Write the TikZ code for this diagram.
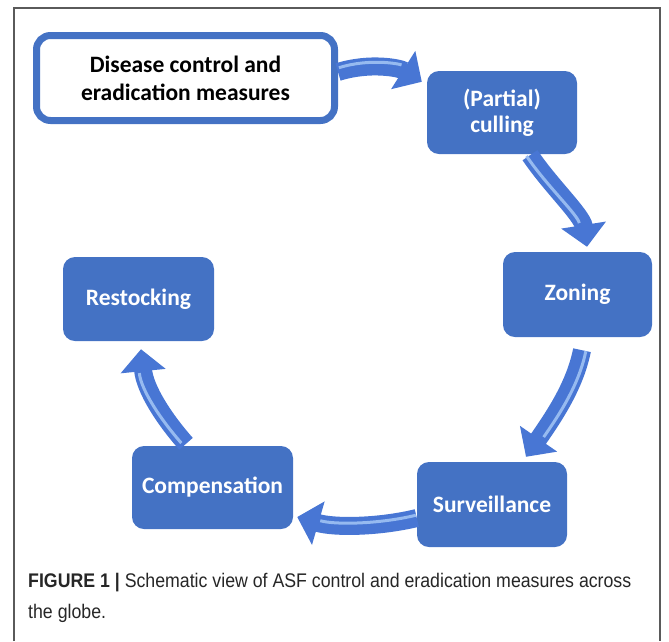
\documentclass[tikz,border=0pt]{standalone}
\usepackage{fontspec}
\usepackage{tikz}
\usetikzlibrary{arrows.meta,calc}
\newfontfamily\boxfont{Carlito}
\newfontfamily\capfont[FakeStretch=0.9]{Liberation Sans}
\definecolor{boxblue}{RGB}{68,114,196}
\definecolor{flowblue}{RGB}{72,118,212}
\definecolor{shineblue}{RGB}{150,186,240}
\definecolor{framegray}{RGB}{90,90,90}
\tikzset{
  stepbox/.style={rectangle,rounded corners=12pt,fill=boxblue,text=white,
    font=\boxfont\bfseries\fontsize{23.5}{26}\selectfont,align=center,inner sep=0pt},
  flow/.style={draw=flowblue,line width=18pt,-{Triangle[width=44pt,length=22pt]}},
  shine/.style={postaction={draw=shineblue,line width=3pt,-,shorten >=24pt,
    shorten <=1pt,transform canvas={shift={#1}}}}
}
\begin{document}
\begin{tikzpicture}[x=1pt,y=-1pt]
\useasboundingbox (0,0) rectangle (669,641);
% frame round the figure
\draw [framegray,line width=1.2pt] (14,641) -- (14,8) -- (660,8) -- (660,641);

\node (title) at (185.5,78) [rectangle,rounded corners=14pt,draw=boxblue,line width=7pt,
  fill=white,minimum width=298pt,minimum height=85pt,align=center,
  font=\boxfont\bfseries\fontsize{23.5}{28}\selectfont] {Disease control and\\eradication measures};
\node (cull) at (502,112.5) [stepbox,minimum width=150pt,minimum height=83pt] {(Partial)\\culling};
\node (zon) at (577.5,294.5) [stepbox,minimum width=149pt,minimum height=85pt] {Zoning};
\node (surv) at (492,504.5) [stepbox,minimum width=150pt,minimum height=85pt] {Surveillance};
\node (comp) at (212.5,487.5) [stepbox,minimum width=161pt,minimum height=83pt] {Compensation};
\node (rest) at (138.5,299) [stepbox,minimum width=151pt,minimum height=84pt] {Restocking};

% curved arrows of the cycle
\draw [flow,shine={(0pt,4pt)}] ([yshift=6pt]title.east)
  .. controls (370,62) and (400,68) .. ([xshift=-5pt,yshift=-11pt]cull.north west);
\draw [flow,shine={(-4pt,0pt)}] ([xshift=28pt,yshift=-1pt]cull.south)
  .. controls (550,185) and (582,215) .. ([xshift=9.5pt,yshift=5pt]zon.north);
\draw [flow,shine={(4pt,0pt)}] ([xshift=4.5pt,yshift=-13pt]zon.south)
  .. controls (575,385) and (555,415) .. ([xshift=34pt,yshift=5pt]surv.north);
\draw [flow,shine={(0pt,3pt)}] ([yshift=-13.5pt]surv.west)
  .. controls (380,527) and (335,528) .. ([xshift=4pt,yshift=-29.5pt]comp.east);
\draw [flow,shine={(-4pt,0pt)}] ([xshift=-26.5pt,yshift=2pt]comp.north)
  .. controls (165,420) and (145,390) .. ([xshift=2.5pt,yshift=-8pt]rest.south);

\node (cap) at (28,573) [anchor=north west,inner sep=0pt,align=left,text=black!85,
  font=\capfont\fontsize{19.7}{31}\selectfont]
  {\textbf{FIGURE 1 |} Schematic view of ASF control and eradication measures across\\the globe.};
\end{tikzpicture}
\end{document}
